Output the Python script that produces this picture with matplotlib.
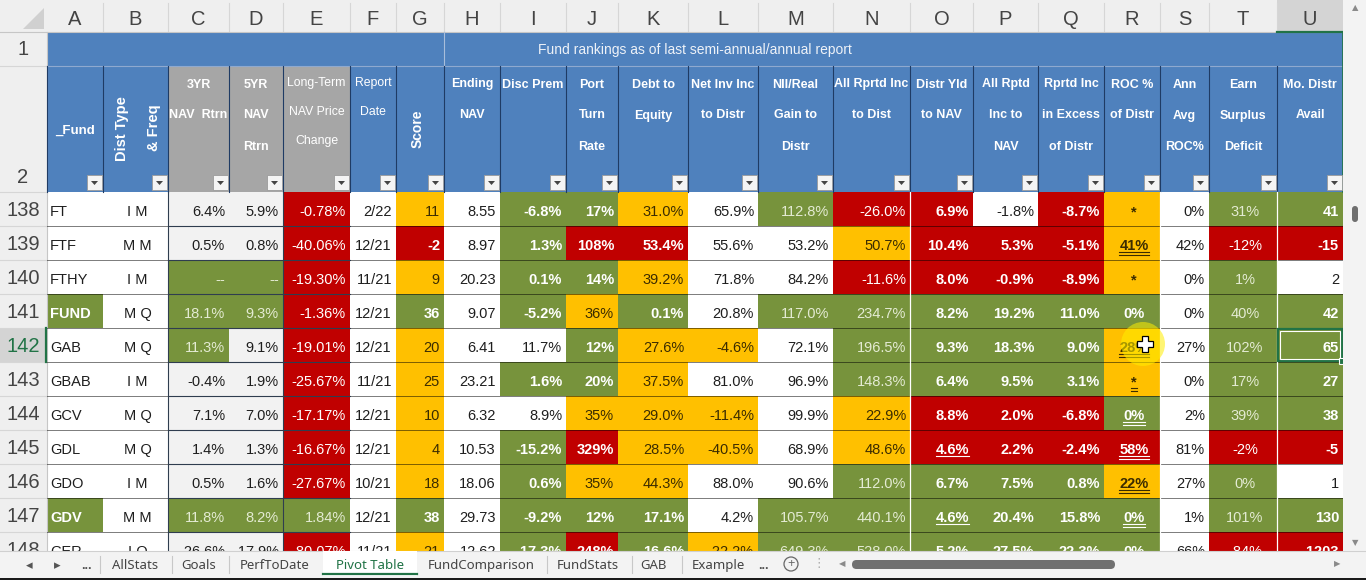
import matplotlib.pyplot as plt
from matplotlib.patches import Rectangle, Circle, Polygon, FancyBboxPatch

plt.rcParams['font.family'] = ['Liberation Sans', 'DejaVu Sans']

# rows 138-148 of the pivot sheet
row_nums = [138, 139, 140, 141, 142, 143, 144, 145, 146, 147, 148]
funds = ['FT', 'FTF', 'FTHY', 'FUND', 'GAB', 'GBAB', 'GCV', 'GDL', 'GDO', 'GDV', 'GER']
dist_freq = ['I M', 'M M', 'I M', 'M Q', 'M Q', 'I M', 'M Q', 'M Q', 'I M', 'M M', 'I Q']
nav_3yr = ['6.4%', '0.5%', '--', '18.1%', '11.3%', '-0.4%', '7.1%', '1.4%', '0.5%', '11.8%', '-26.6%']
nav_5yr = ['5.9%', '0.8%', '--', '9.3%', '9.1%', '1.9%', '7.0%', '1.3%', '1.6%', '8.2%', '-17.9%']
lt_price_chg = [-0.78, -40.06, -19.30, -1.36, -19.01, -25.67, -17.17, -16.67, -27.67, 1.84, -80.07]
report_date = ['2/22', '12/21', '11/21', '12/21', '12/21', '11/21', '12/21', '12/21', '10/21', '12/21', '11/21']
score = [11, -2, 9, 36, 20, 25, 10, 4, 18, 38, 21]
ending_nav = [8.55, 8.97, 20.23, 9.07, 6.41, 23.21, 6.32, 10.53, 18.06, 29.73, 12.62]
disc_prem = [-6.8, 1.3, 0.1, -5.2, 11.7, 1.6, 8.9, -15.2, 0.6, -9.2, -17.3]
port_turn = [17, 108, 14, 36, 12, 20, 35, 329, 35, 12, 248]
debt_equity = [31.0, 53.4, 39.2, 0.1, 27.6, 37.5, 29.0, 28.5, 44.3, 17.1, 16.6]
nii_distr = [65.9, 55.6, 71.8, 20.8, -4.6, 81.0, -11.4, -40.5, 88.0, 4.2, -22.2]
nii_gain_distr = [112.8, 53.2, 84.2, 117.0, 72.1, 96.9, 99.9, 68.9, 90.6, 105.7, 649.3]
all_inc_dist = [-26.0, 50.7, -11.6, 234.7, 196.5, 148.3, 22.9, 48.6, 112.0, 440.1, 528.0]
distr_yld = [6.9, 10.4, 8.0, 8.2, 9.3, 6.4, 8.8, 4.6, 6.7, 4.6, 5.2]
all_inc_nav = [-1.8, 5.3, -0.9, 19.2, 18.3, 9.5, 2.0, 2.2, 7.5, 20.4, 27.5]
inc_excess = [-8.7, -5.1, -8.9, 11.0, 9.0, 3.1, -6.8, -2.4, 0.8, 15.8, 22.3]
roc_pct = ['*', '41%', '*', '0%', '28%', '*', '0%', '58%', '22%', '0%', '0%']
ann_avg_roc = [0, 42, 0, 0, 27, 0, 2, 81, 27, 1, 66]
earn_surplus = [31, -12, 1, 40, 102, 17, 39, -2, 0, 101, -84]
mo_distr_avail = [41, -15, 2, 42, 65, 27, 38, -5, 1, 130, -1203]

# conditional-format result per cell: G good, B bad, W watch, '.' plain grey, '-' none
fund_rating = '---G-----G-'
nav_3yr_rating = '..GGG....G.'
nav_5yr_rating = '..GG.....G.'
lt_price_rating = 'BBBBBBBBBGB'
score_rating = 'WBWGWWWWWGW'
disc_rating = 'GGGG-G-GGGG'
turn_rating = 'GBGWGGWBWGB'
debt_rating = 'WBWGWWWWWGG'
nii_rating = '----W-WW--W'
nii_gain_rating = 'G--G-----GG'
all_inc_rating = 'BWBGGGWWGGG'
yld_rating = 'BBBGGGBBGGG'
inc_nav_rating = '-BBGGGBBGGG'
excess_rating = 'BBBGGGBBGGG'
roc_rating = 'WWWGWWGBWGG'
surplus_rating = 'GBGGGGGBGGB'
avail_rating = 'GB-GGGGB-GB'
plain = '-' * 11

# 0 none, 1 single, 2 double underline
yld_underline = [0, 0, 0, 0, 0, 0, 0, 1, 0, 1, 0]
roc_underline = [0, 2, 0, 0, 2, 2, 2, 2, 2, 2, 0]

headers = [None, None, ['3YR', 'NAV  Rtrn'], ['5YR', 'NAV', 'Rtrn'],
           ['Long-Term', 'NAV Price', 'Change'], ['Report', 'Date'], None,
           ['Ending', 'NAV'], ['Disc Prem'], ['Port', 'Turn', 'Rate'], ['Debt to', 'Equity'],
           ['Net Inv Inc', 'to Distr'], ['NII/Real', 'Gain to', 'Distr'], ['All Rprtd Inc', 'to Dist'],
           ['Distr Yld', 'to NAV'], ['All Rptd', 'Inc to', 'NAV'], ['Rprtd Inc', 'in Excess', 'of Distr'],
           ['ROC %', 'of Distr'], ['Ann', 'Avg', 'ROC%'], ['Earn', 'Surplus', 'Deficit'], ['Mo. Distr', 'Avail']]
title = 'Fund rankings as of last semi-annual/annual report'
tabs = ['AllStats', 'Goals', 'PerfToDate', 'Pivot Table', 'FundComparison', 'FundStats', 'GAB', 'Example']


def pct1(v):
    return ['%.1f%%' % x for x in v]


def pct0(v):
    return ['%.0f%%' % x for x in v]


# column: (texts, rating, align, bold when coloured, pale text on green, underline)
table = [
    (funds, fund_rating, 'l', True, False, None),
    (dist_freq, plain, 'c', False, False, None),
    (nav_3yr, nav_3yr_rating, 'r', False, True, None),
    (nav_5yr, nav_5yr_rating, 'r', False, True, None),
    (['%.2f%%' % x for x in lt_price_chg], lt_price_rating, 'r', False, True, None),
    (report_date, plain, 'r', False, False, None),
    ([str(x) for x in score], score_rating, 'r', True, False, None),
    (['%.2f' % x for x in ending_nav], plain, 'r', False, False, None),
    (pct1(disc_prem), disc_rating, 'r', True, False, None),
    (pct0(port_turn), turn_rating, 'r', True, False, None),
    (pct1(debt_equity), debt_rating, 'r', True, False, None),
    (pct1(nii_distr), nii_rating, 'r', False, False, None),
    (pct1(nii_gain_distr), nii_gain_rating, 'r', False, True, None),
    (pct1(all_inc_dist), all_inc_rating, 'r', False, True, None),
    (pct1(distr_yld), yld_rating, 'r', True, False, yld_underline),
    (pct1(all_inc_nav), inc_nav_rating, 'r', True, False, None),
    (pct1(inc_excess), excess_rating, 'r', True, False, None),
    (roc_pct, roc_rating, 'c', True, False, roc_underline),
    (pct0(ann_avg_roc), plain, 'r', False, False, None),
    (pct0(earn_surplus), surplus_rating, 'c', False, True, None),
    ([str(x) for x in mo_distr_avail], avail_rating, 'r', True, False, None),
]

fills = {'G': '#77933c', 'B': '#c00000', 'W': '#ffc000', '.': '#f2f2f2', '-': 'white'}
BLUE = '#4f81bd'
GREY_HDR = '#a6a6a6'
NAVY = '#1f3b64'
XL_GREEN = '#217346'

letters = 'ABCDEFGHIJKLMNOPQRSTU'
col_w = [56, 65, 61, 54, 67, 46, 48, 56, 66, 52, 70, 70, 75, 77, 63, 65, 66, 56, 49, 68, 66]
edges = [47]
for w in col_w:
    edges.append(edges[-1] + w)
ROW_H = 34
DATA_TOP = 192
TAB_TOP = 551
GRID_R = edges[-1]


def text_color(code, pale):
    if code == 'G':
        return '#e4ebd3' if pale else 'white'
    if code == 'B':
        return 'white'
    if code == 'W':
        return '#3b2c00'
    return '#1e1e1e'


fig = plt.figure(figsize=(13.66, 5.8), dpi=100)
ax = fig.add_axes([0, 0, 1, 1])
ax.set_xlim(0, 1366)
ax.set_ylim(580, 0)
ax.axis('off')

# ---- column letters and row numbers ----
ax.add_patch(Rectangle((0, 0), 1366, DATA_TOP - 160, fc='#efefef', ec='none', zorder=0))
ax.add_patch(Rectangle((0, 0), 47, TAB_TOP, fc='#efefef', ec='none', zorder=0))
ax.add_patch(Rectangle((edges[-2], 0), col_w[-1], 32, fc='#d4d4d4', ec='none', zorder=1))
ax.add_patch(Polygon([(44, 8), (44, 29), (23, 29)], fc='#d0d0d0', ec='none', zorder=1))
for i, L in enumerate(letters):
    ax.text((edges[i] + edges[i + 1]) / 2, 25, L, ha='center', va='baseline',
            fontsize=14.5, color='#444444', zorder=3)
    ax.plot([edges[i + 1]] * 2, [3, 31], color='#d6d6d6', lw=0.8, zorder=2)
ax.plot([0, GRID_R], [32, 32], color='#c6c6c6', lw=0.8, zorder=2)
ax.plot([edges[-2], GRID_R], [32, 32], color=XL_GREEN, lw=1.6, zorder=3)
ax.plot([47, 47], [32, TAB_TOP], color='#c6c6c6', lw=0.8, zorder=2)

ax.text(23, 55, '1', ha='center', va='baseline', fontsize=14.5, color='#444444')
ax.text(23, 183, '2', ha='center', va='baseline', fontsize=14.5, color='#444444')
ax.plot([0, 47], [66, 66], color='#d6d6d6', lw=0.8)
ax.plot([0, 47], [192, 192], color='#d6d6d6', lw=0.8)

# ---- title row and header row ----
ax.add_patch(Rectangle((47, 32), GRID_R - 47, 34, fc=BLUE, ec='none', zorder=1))
ax.plot([edges[7]] * 2, [32, 66], color='#a9bedb', lw=0.8, zorder=2)
ax.text(695, 54, title, ha='center', va='baseline', fontsize=10, color='#eef2f8', zorder=3)
ax.add_patch(Rectangle((47, 66), GRID_R - 47, 126, fc=BLUE, ec='none', zorder=1))
ax.add_patch(Rectangle((edges[2], 66), edges[5] - edges[2], 126, fc=GREY_HDR, ec='none', zorder=1))
ax.plot([47, GRID_R], [66, 66], color='#8fa9cf', lw=0.8, zorder=2)
ax.plot([GRID_R, GRID_R], [32, 192], color=XL_GREEN, lw=1.2, zorder=3)
for e in edges[:-1]:
    ax.plot([e, e], [66, 192], color=NAVY, lw=0.8, zorder=2)

for i, lines in enumerate(headers):
    cx = (edges[i] + edges[i + 1]) / 2
    if lines is None:
        continue
    if letters[i] in 'EF':
        y0, step, kw = 86, 29, dict(fontsize=8.8)
    else:
        y0, step, kw = 87.5, 31, dict(fontsize=9, fontweight='bold')
    for k, s in enumerate(lines):
        ax.text(cx, y0 + k * step, s, ha='center', va='baseline', color='white', zorder=3, **kw)
ax.text(75, 134, '_Fund', ha='center', va='baseline', color='white', fontsize=9.5,
        fontweight='bold', zorder=3)
ax.text(122, 129, 'Dist Type', rotation=90, ha='center', va='center', color='white',
        fontsize=10.5, fontweight='bold', zorder=3)
ax.text(154, 128, '& Freq', rotation=90, ha='center', va='center', color='white',
        fontsize=10.5, fontweight='bold', zorder=3)
ax.text(418, 129, 'Score', rotation=90, ha='center', va='center', color='white',
        fontsize=10, fontweight='bold', zorder=3)

# filter buttons
for e in edges[1:]:
    ax.add_patch(Rectangle((e - 16, 175), 15, 15, fc='#f4f4f4', ec='#9a9a9a', lw=0.6, zorder=3))
    cx, cy = e - 8.5, 182.5
    ax.add_patch(Polygon([(cx - 3.5, cy - 1.5), (cx + 3.5, cy - 1.5), (cx, cy + 2.5)],
                         fc='#444444', ec='none', zorder=4))

# ---- data rows ----
underlined = []
for r, num in enumerate(row_nums):
    top = DATA_TOP + r * ROW_H
    sel = num == 142
    if sel:
        ax.add_patch(Rectangle((0, top), 47, ROW_H, fc='#d4d4d4', ec='none', zorder=1))
        ax.plot([46, 46], [top, top + ROW_H], color=XL_GREEN, lw=1.6, zorder=3)
    ax.text(23, top + 23.5, str(num), ha='center', va='baseline', fontsize=14.5,
            color=XL_GREEN if sel else '#444444', zorder=3)
    ax.plot([0, 47], [top + ROW_H] * 2, color='#d6d6d6', lw=0.8, zorder=2)

    for c, (vals, rating, align, bold, pale, uline) in enumerate(table):
        x0, x1 = edges[c], edges[c + 1]
        code = rating[r]
        ax.add_patch(Rectangle((x0, top), x1 - x0, ROW_H, fc=fills[code], ec='none', zorder=1))
        if align == 'l':
            tx, ha = x0 + 3, 'left'
        elif align == 'c':
            tx, ha = (x0 + x1) / 2 + 2, 'center'
        else:
            tx, ha = x1 - 4, 'right'
        weight = 'bold' if bold and (code in 'GB' or letters[c] == 'R') else 'normal'
        if letters[c] == 'A':
            weight = 'bold' if code == 'G' else 'normal'
        t = ax.text(tx, top + 24, vals[r], ha=ha, va='baseline', fontsize=10.5,
                    fontweight=weight, color=text_color(code, pale), zorder=3)
        if uline is not None and uline[r]:
            underlined.append((t, uline[r], top + 24, text_color(code, pale)))

    yb = top + ROW_H
    ax.plot([47, edges[2]], [yb, yb], color='black', lw=0.72, ls=(0, (1, 1)), zorder=2)
    ax.plot([edges[5], GRID_R], [yb, yb], color='black', lw=0.72, ls=(0, (1, 1)), zorder=2)
    ax.plot([edges[2], edges[5]], [yb, yb], color='#2f3d4f', lw=0.8, zorder=2)

for e in (edges[2], edges[4]):
    ax.plot([e, e], [DATA_TOP, TAB_TOP], color='#2f3d4f', lw=0.8, zorder=2)
for e in (edges[14], edges[18], edges[20]):
    ax.plot([e, e], [DATA_TOP, TAB_TOP], color='white', lw=0.9, zorder=2)

# underlines drawn under the rendered text extents
fig.canvas.draw()
rend = fig.canvas.get_renderer()
inv = ax.transData.inverted()
for t, n, base, col in underlined:
    bb = t.get_window_extent(rend)
    xa = inv.transform((bb.x0, 0))[0]
    xb = inv.transform((bb.x1, 0))[0]
    for k in range(n):
        ax.plot([xa, xb], [base + 2 + 2.5 * k] * 2, color=col, lw=0.8, zorder=3)

# selected cell U142
sel_top = DATA_TOP + row_nums.index(142) * ROW_H
ax.add_patch(Rectangle((edges[-2] + 1, sel_top + 1), col_w[-1] - 2, ROW_H - 2, fill=False,
                       ec=XL_GREEN, lw=1.6, zorder=4))
ax.add_patch(Rectangle((edges[-2] + 3, sel_top + 3), col_w[-1] - 6, ROW_H - 6, fill=False,
                       ec='white', lw=0.8, zorder=4))
ax.add_patch(Rectangle((GRID_R - 4, sel_top + ROW_H - 4), 6, 6, fc=XL_GREEN, ec='white',
                       lw=0.8, zorder=5))

# mouse highlight and cursor
ax.add_patch(Circle((1143, 344), 22, fc='#ffee00', ec='none', alpha=0.55, zorder=6))
cx, cy = 1145, 344
arm = [(-3, -8), (3, -8), (3, -3), (8, -3), (8, 3), (3, 3), (3, 8), (-3, 8), (-3, 3),
       (-8, 3), (-8, -3), (-3, -3)]
ax.add_patch(Polygon([(cx + a, cy + b) for a, b in arm], fc='white', ec='black', lw=0.9,
                     zorder=7))

# ---- vertical scrollbar ----
ax.add_patch(Rectangle((GRID_R, 0), 1366 - GRID_R, TAB_TOP, fc='#f3f3f3', ec='none', zorder=8))
ax.text(1355, 8, '▲', ha='center', va='center', fontsize=6, color='#8a8a8a', zorder=9,
        family='DejaVu Sans')
ax.text(1355, 543, '▼', ha='center', va='center', fontsize=6, color='#8a8a8a', zorder=9,
        family='DejaVu Sans')
ax.add_patch(FancyBboxPatch((1352, 206), 6, 16, boxstyle='round,pad=0,rounding_size=3',
                            fc='#6f6f6f', ec='none', zorder=9))

# ---- sheet tabs ----
ax.add_patch(Rectangle((0, TAB_TOP), 1366, 580 - TAB_TOP, fc='#f3f3f3', ec='none', zorder=8))
ax.plot([0, 1366], [TAB_TOP, TAB_TOP], color='#d0d0d0', lw=0.8, zorder=9)
ax.add_patch(Rectangle((0, 578), 1366, 2, fc='#1a1a1a', ec='none', zorder=10))
ax.add_patch(Rectangle((323, TAB_TOP), 94, 25, fc='white', ec='none', zorder=9))
ax.plot([323, 417], [574, 574], color=XL_GREEN, lw=1.6, zorder=10)
ui = dict(va='baseline', fontsize=9.5, zorder=10, family=['Noto Sans', 'DejaVu Sans'])
ax.text(29, 569, '◂', ha='center', color='#555555', **ui)
ax.text(57, 569, '▸', ha='center', color='#555555', **ui)
ax.text(86, 569, '...', ha='center', color='#555555', fontweight='bold', va='baseline',
        fontsize=9, zorder=10)
tab_x = [135, 199, 275, 370, 481, 588, 653, 718]
for name, x in zip(tabs, tab_x):
    active = name == 'Pivot Table'
    ax.text(x, 569, name, ha='center', color=XL_GREEN if active else '#444444',
            fontweight='bold' if active else 'normal', **ui)
for x in (100, 172, 229, 547, 632, 682):
    ax.plot([x, x], [556, 573], color='#c8c8c8', lw=0.8, zorder=10)
ax.text(763, 569, '...', ha='center', color='#555555', fontweight='bold', va='baseline',
        fontsize=9, zorder=10)
ax.add_patch(Circle((791, 564), 7, fc='none', ec='#666666', lw=0.9, zorder=10))
ax.text(791, 564, '+', ha='center', va='center', fontsize=9, color='#666666', zorder=10)
ax.text(819, 564, '⋮', ha='center', va='center', fontsize=9, color='#aaaaaa', zorder=10,
        family='DejaVu Sans')
ax.text(842, 564, '◀', ha='center', va='center', fontsize=6, color='#8a8a8a', zorder=10,
        family='DejaVu Sans')
ax.text(1337, 564, '▶', ha='center', va='center', fontsize=6, color='#8a8a8a', zorder=10,
        family='DejaVu Sans')
ax.add_patch(FancyBboxPatch((852, 560), 263, 9, boxstyle='round,pad=0,rounding_size=4.5',
                            fc='#707070', ec='none', zorder=10))

fig.savefig('out.png', dpi=100)
